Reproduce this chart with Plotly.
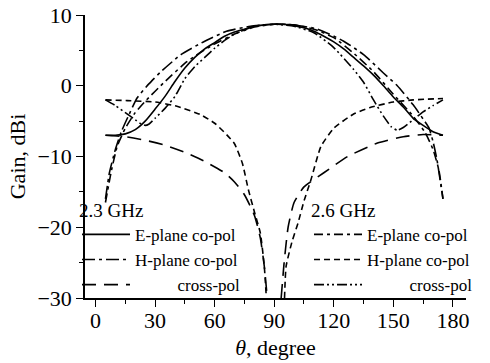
import plotly.graph_objects as go

# ---------------- data ----------------
# 2.3 GHz E-plane co-pol (solid)
th_e23 = [5, 10, 15, 20, 25, 30, 35, 40, 45, 50, 55, 60, 65, 70, 75, 80, 85, 90,
          95, 100, 105, 110, 115, 120, 125, 130, 135, 140, 145, 150, 155, 160, 165, 170, 175]
g_e23 = [-7.0, -7.0, -6.8, -6.2, -5.0, -3.3, -1.5, 0.6, 2.5, 4.0, 5.2, 6.1, 7.0, 7.6, 8.0, 8.4, 8.6, 8.7,
         8.7, 8.5, 8.2, 7.7, 7.0, 6.2, 5.2, 4.0, 2.8, 1.5, 0.0, -1.6, -3.0, -4.6, -5.6, -6.5, -7.0]

# 2.3 GHz H-plane co-pol (long dash-dot)
th_h23 = [5, 7, 10, 13, 17, 21, 27, 33, 43, 55, 66, 78, 90,
          100, 112, 125, 135, 145, 152, 160, 165, 168, 170, 172, 175]
g_h23 = [-16.0, -12.3, -9.0, -6.5, -4.0, -1.7, 0.3, 2.0, 4.4, 6.3, 7.7, 8.4, 8.7,
         8.6, 8.0, 6.3, 4.4, 1.8, 0.0, -2.7, -4.7, -6.0, -7.9, -10.5, -16.0]

# 2.3 GHz cross-pol (long dash)
th_x23 = [5, 15, 25, 35, 45, 55, 65, 70, 75, 80, 83, 85, 86.5, None,
          93.5, 95, 97, 100, 105, 115, 127, 142, 155, 165, 175]
g_x23 = [-7.0, -7.2, -7.7, -8.4, -9.4, -10.7, -12.3, -13.6, -15.4, -18.3, -21.5, -25.5, -30, None,
         -30, -25, -20, -16.5, -14.3, -12.3, -10.0, -8.1, -7.2, -6.9, -7.0]

# 2.6 GHz E-plane co-pol (dash-dot)
th_e26 = [5, 8, 11, 15, 20, 25, 35, 46, 58, 70, 80, 90,
          100, 110, 120, 130, 140, 150, 160, 166, 170, 173, 175]
g_e26 = [-16.5, -12.0, -8.5, -6.0, -3.8, -2.2, 0.6, 3.4, 5.6, 7.3, 8.3, 8.7,
         8.6, 8.0, 6.8, 4.6, 2.0, -1.2, -4.3, -6.6, -9.0, -12.0, -16.0]

# 2.6 GHz H-plane co-pol (short dash)
th_h26 = [5, 16, 30, 41, 53, 60, 66, 70, 74, 77, 80, 83, 85, 86, None,
          95.2, 96, 99, 102, 105, 108.5, 113.5, 120, 130, 138, 150, 160, 175]
g_h26 = [-2.0, -2.1, -2.3, -2.9, -4.1, -5.3, -6.9, -8.2, -11.0, -14.7, -17.8, -20.8, -25.5, -29.8, None,
         -30, -25.5, -22.0, -19.4, -16.3, -13.3, -8.6, -6.0, -4.0, -3.1, -2.3, -2.0, -1.8]

# 2.6 GHz cross-pol (dash-dot-dot)
th_x26 = [5, 10, 15, 20, 23, 25, 27, 30, 35, 40, 45, 50, 55, 60, 65, 70, 75, 80, 85, 90,
          100, 110, 120, 130, 135, 140, 145, 149, 152, 155, 160, 165, 170, 175]
g_x26 = [-2.0, -2.8, -3.8, -4.8, -5.4, -5.6, -5.4, -4.6, -3.2, -1.5, 1.0, 2.7, 4.0, 5.3, 6.4, 7.3, 7.9, 8.4, 8.6, 8.7,
         8.4, 7.5, 5.4, 2.3, 0.5, -2.0, -4.3, -5.8, -6.3, -5.9, -4.8, -3.7, -2.8, -2.0]

x_ticks = [0, 30, 60, 90, 120, 150, 180]
y_ticks = [-30, -20, -10, 0, 10]
y_tick_text = ["\u221230", "\u221220", "\u221210", "0", "10"]

FONT = "Liberation Serif"
NB = "\u00a0"

fig = go.Figure()

def add(th, g, name, dash, legend):
    fig.add_trace(go.Scatter(
        x=th, y=g, mode="lines", name=name, legend=legend,
        line=dict(color="black", width=1.6, dash=dash, shape="spline", smoothing=0.5),
        connectgaps=False,
    ))

add(th_e23, g_e23, "E-plane co-pol", "solid", "legend")
add(th_h23, g_h23, "H-plane co-pol", "13px,4px,3px,4px", "legend")
add(th_x23, g_x23, NB * 10 + "cross-pol", "14px,8px", "legend")
add(th_e26, g_e26, "E-plane co-pol", "9px,4px,3px,4px", "legend2")
add(th_h26, g_h26, "H-plane co-pol", "6px,4px", "legend2")
add(th_x26, g_x26, NB * 10 + "cross-pol", "10px,3px,2px,3px,2px,3px", "legend2")

leg_common = dict(
    bgcolor="rgba(0,0,0,0)", borderwidth=0,
    font=dict(family=FONT, size=17, color="black"),
    xanchor="left", yanchor="top", tracegroupgap=0,
    itemwidth=48,
)

fig.update_layout(
    width=490, height=363,
    margin=dict(l=85, r=20, t=15, b=65),
    paper_bgcolor="white", plot_bgcolor="white",
    font=dict(family=FONT, color="black"),
    showlegend=True,
    legend=dict(x=-0.021, y=0.374, title=dict(text="2.3 GHz", font=dict(family=FONT, size=19)), **leg_common),
    legend2=dict(x=0.588, y=0.374, title=dict(text="2.6 GHz", font=dict(family=FONT, size=19)), **leg_common),
    xaxis=dict(
        automargin=False,
        range=[-5.3, 186.6], tickvals=x_ticks, ticktext=[str(v) for v in x_ticks],
        ticks="outside", ticklen=7, tickwidth=1.3, tickcolor="black",
        minor=dict(dtick=15, tick0=0, ticks="outside", ticklen=4, tickwidth=1.3, tickcolor="black"),
        showline=True, linecolor="black", linewidth=1.5,
        showgrid=False, zeroline=False, ticklabelstandoff=-5, ticklabeloverflow="allow",
        tickfont=dict(family=FONT, size=22, color="black"),
        title=dict(text="<i>θ</i>, degree", font=dict(family=FONT, size=22, color="black"), standoff=7),
    ),
    yaxis=dict(
        automargin=False,
        range=[-30, 10], tickvals=y_ticks, ticktext=y_tick_text,
        ticks="outside", ticklen=7, tickwidth=1.3, tickcolor="black",
        minor=dict(dtick=5, tick0=0, ticks="outside", ticklen=4, tickwidth=1.3, tickcolor="black"),
        showline=True, linecolor="black", linewidth=1.5,
        showgrid=False, zeroline=False, ticklabeloverflow="allow",
        tickfont=dict(family=FONT, size=22, color="black"),
        title=dict(text="Gain, dBi", font=dict(family=FONT, size=22, color="black"), standoff=6),
    ),
)

# remove the default 8px page margin so the figure sits at the window's corner
fig.write_html("out.html", config={"displayModeBar": False},
               post_script="document.body.style.margin='0px';")
